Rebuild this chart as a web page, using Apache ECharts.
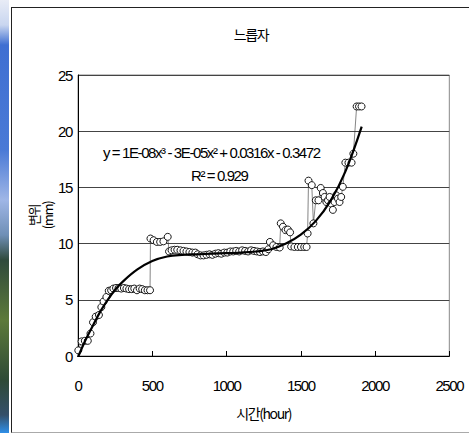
<!DOCTYPE html>
<html>
<head>
    <meta charset="utf-8">
    <script src="https://cdn.jsdelivr.net/npm/echarts@6/dist/echarts.min.js"></script>
    <style>
        body { margin: 0; background: #fff; }
        #strip {
            position: absolute; left: 0; top: 0; width: 9px; height: 433px;
            background: linear-gradient(to bottom, #e8ecf6 0px, #c9d6f0 25px, #3f6fd2 45px, #4a7ad6 150px,
                #9fb6e6 200px, #6f8fb6 235px, #2f4a3c 260px, #5d7a3a 320px, #2e4a36 380px, #35506a 415px, #2f8fe8 433px);
        }
        #frame {
            position: absolute; left: 11px; top: 7px; width: 470px; height: 424px;
            border-left: 1.5px solid #222; border-top: 1.5px solid #222; border-bottom: 1.5px solid #aaa;
            background: #fff;
        }
        #chart { position: absolute; left: 0; top: 0; width: 469px; height: 433px; }
        #chart text { letter-spacing: -1.4px; }
    </style>
</head>
<body>
<div id="strip"></div>
<div id="frame"></div>
<div id="chart"></div>
<script>
    const title = '느릅자'
    const xName = '시간(hour)'
    const yName = '변위\n(mm)'
    const equation = 'y = 1E-08x³ - 3E-05x² + 0.0316x - 0.3472'
    const rSquared = 'R² = 0.929'
    const xTicks = [0, 500, 1000, 1500, 2000, 2500]
    const yTicks = [0, 5, 10, 15, 20, 25]
    // measured displacement [hour, mm]
    const measured = [
        [2, 0.5], [24, 1.3], [46, 1.35], [66, 1.35], [84, 2.0], [101, 3.0], [119, 3.5], [141, 3.65],
        [157, 4.35], [172, 4.85], [191, 5.25], [207, 5.8], [223, 5.85], [238, 6.0], [256, 6.05], [273, 6.05],
        [291, 6.0], [309, 6.05], [326, 6.0], [344, 5.95], [362, 5.95], [379, 6.0], [397, 5.85], [415, 6.0],
        [432, 5.95], [450, 5.85], [468, 5.85], [485, 5.85],
        [488, 10.45], [509, 10.3], [531, 10.15], [553, 10.15], [575, 10.2], [604, 10.6],
        [613, 9.3], [630, 9.4], [650, 9.45], [668, 9.45], [690, 9.4], [710, 9.35], [730, 9.3], [750, 9.25],
        [770, 9.2], [790, 9.2], [805, 9.05], [825, 8.95], [845, 8.95], [865, 9.0], [885, 9.05], [905, 9.0],
        [925, 9.1], [945, 9.15], [965, 9.1], [985, 9.2], [1005, 9.2], [1025, 9.3], [1045, 9.3], [1065, 9.35],
        [1085, 9.3], [1105, 9.4], [1125, 9.35], [1145, 9.3], [1165, 9.4], [1185, 9.35], [1205, 9.3],
        [1225, 9.25], [1245, 9.3], [1265, 9.25], [1282, 9.5],
        [1292, 10.15], [1314, 9.85], [1336, 9.7], [1358, 9.65], [1365, 11.8], [1380, 11.5], [1397, 11.2],
        [1413, 11.25], [1428, 11.0], [1435, 9.75], [1457, 9.7], [1480, 9.7], [1501, 9.7], [1523, 9.7],
        [1539, 9.7], [1546, 10.9], [1552, 15.6], [1574, 15.2], [1585, 11.8], [1601, 13.85], [1619, 13.85],
        [1634, 14.95], [1649, 14.5], [1660, 14.15], [1672, 13.7], [1683, 13.85], [1694, 14.15], [1705, 13.55],
        [1716, 13.0], [1727, 13.7], [1738, 14.3], [1750, 14.0], [1761, 13.7], [1772, 14.15], [1783, 15.05],
        [1800, 17.2], [1821, 17.2], [1842, 17.2], [1854, 18.0], [1876, 22.2], [1892, 22.2], [1909, 22.2]
    ]
    // 3rd order trendline
    const trend = [
        [0, -0.1], [50, 1.4], [100, 2.7], [150, 3.95], [200, 5.0], [250, 5.9], [300, 6.6], [400, 7.7],
        [500, 8.45], [600, 8.85], [700, 9.0], [800, 9.05], [900, 9.1], [1000, 9.15], [1100, 9.2],
        [1200, 9.3], [1300, 9.5], [1400, 10.0], [1500, 10.8], [1600, 12.0], [1700, 13.8], [1800, 16.4],
        [1910, 20.4]
    ]

    const font = 'Liberation Sans, Arial, sans-serif'
    const krFont = 'Noto Sans CJK KR, Liberation Sans, sans-serif'
    const chart = echarts.init(document.getElementById('chart'), null, { renderer: 'svg' })

    const option = {
        backgroundColor: 'transparent',
        animation: false,
        title: {
            text: title,
            left: 246,
            textAlign: 'center',
            top: 22,
            textStyle: { fontFamily: krFont, fontSize: 14, fontWeight: 'normal', color: '#000' }
        },
        grid: {
            left: 78, right: 13, top: 75, bottom: 77,
            show: true, borderColor: '#888', borderWidth: 1
        },
        xAxis: {
            type: 'value',
            min: xTicks[0],
            max: xTicks[xTicks.length - 1],
            interval: xTicks[1] - xTicks[0],
            name: xName,
            nameLocation: 'middle',
            nameGap: 50,
            nameMoveOverlap: false,
            nameTextStyle: { fontFamily: krFont, fontSize: 14, color: '#000' },
            axisLine: { lineStyle: { color: '#000', width: 1 } },
            axisTick: { inside: true, length: 5, lineStyle: { color: '#000' } },
            axisLabel: { fontFamily: font, fontSize: 15, color: '#000', margin: 22, formatter: v => String(v) },
            splitLine: { show: false }
        },
        yAxis: {
            type: 'value',
            min: yTicks[0],
            max: yTicks[yTicks.length - 1],
            interval: yTicks[1] - yTicks[0],
            name: yName,
            nameLocation: 'middle',
            nameRotate: 90,
            nameGap: 24,
            nameMoveOverlap: false,
            nameTextStyle: { fontFamily: krFont, fontSize: 13, color: '#000', lineHeight: 14 },
            axisLine: { show: true, lineStyle: { color: '#000', width: 1 } },
            axisTick: { show: false },
            axisLabel: { fontFamily: font, fontSize: 15, color: '#000', margin: 6, formatter: v => String(v) },
            splitLine: { lineStyle: { color: '#444', width: 1 } }
        },
        series: [{
            name: 'measured',
            type: 'line',
            data: measured,
            symbol: 'circle',
            symbolSize: 7,
            showAllSymbol: true,
            itemStyle: { color: '#fff', borderColor: '#000', borderWidth: 0.9 },
            lineStyle: { color: '#333', width: 0.6 },
            z: 2
        }, {
            name: 'trend',
            type: 'line',
            data: trend,
            smooth: 0.4,
            symbol: 'none',
            lineStyle: { color: '#000', width: 2.2 },
            z: 3
        }],
        graphic: [{
            type: 'text',
            left: 103, top: 145,
            style: { text: equation, font: '15px ' + font, fill: '#000' }
        }, {
            type: 'text',
            left: 191, top: 168,
            style: { text: rSquared, font: '15px ' + font, fill: '#000' }
        }]
    }
    chart.setOption(option)
</script>
</body>
</html>
